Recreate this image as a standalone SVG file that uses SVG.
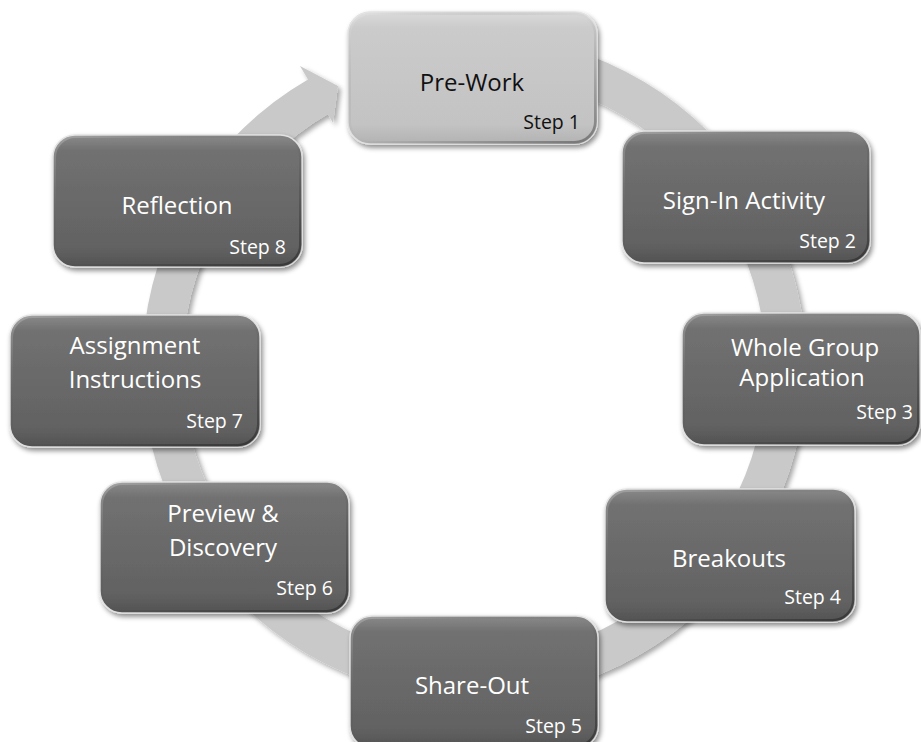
<svg xmlns="http://www.w3.org/2000/svg" width="921" height="742" viewBox="0 0 921 742">
  <defs>
    <style>
      .lbl { font-family: "Open Sans", "Liberation Sans", sans-serif; font-size: 24px; text-anchor: middle; }
      .step { font-family: "Open Sans", "Liberation Sans", sans-serif; font-size: 19.5px; text-anchor: end; }
      .dark .lbl, .dark .step { fill: #ffffff; }
      .light .lbl, .light .step { fill: #111111; }
      .box { stroke: #e2e2e2; stroke-width: 1.5; filter: url(#boxShadow); }
      .dark .box { fill: url(#darkFill); }
      .light .box { fill: url(#lightFill); }
      .bevel { fill: none; stroke: url(#bevelEdge); stroke-width: 3; }
    </style>
    <linearGradient id="darkFill" x1="0" y1="0" x2="0" y2="1">
      <stop offset="0" stop-color="#8a8a8a"/>
      <stop offset="0.12" stop-color="#717171"/>
      <stop offset="0.85" stop-color="#626262"/>
      <stop offset="1" stop-color="#535353"/>
    </linearGradient>
    <linearGradient id="lightFill" x1="0" y1="0" x2="0" y2="1">
      <stop offset="0" stop-color="#dadada"/>
      <stop offset="0.12" stop-color="#cbcbcb"/>
      <stop offset="0.85" stop-color="#c3c3c3"/>
      <stop offset="1" stop-color="#b2b2b2"/>
    </linearGradient>
    <linearGradient id="bevelEdge" x1="0" y1="0" x2="1" y2="1">
      <stop offset="0" stop-color="#ffffff" stop-opacity="0.25"/>
      <stop offset="0.5" stop-color="#000000" stop-opacity="0"/>
      <stop offset="1" stop-color="#000000" stop-opacity="0.35"/>
    </linearGradient>
    <filter id="boxShadow" x="-10%" y="-10%" width="125%" height="130%">
      <feGaussianBlur in="SourceAlpha" stdDeviation="2.5"/>
      <feOffset dx="2" dy="3" result="b"/>
      <feFlood flood-color="#000000" flood-opacity="0.45"/>
      <feComposite in2="b" operator="in"/>
      <feMerge><feMergeNode/><feMergeNode in="SourceGraphic"/></feMerge>
    </filter>
    <filter id="ringShadow" x="-10%" y="-10%" width="125%" height="125%">
      <feGaussianBlur in="SourceAlpha" stdDeviation="2.5"/>
      <feOffset dx="3" dy="3" result="b"/>
      <feFlood flood-color="#000000" flood-opacity="0.35"/>
      <feComposite in2="b" operator="in"/>
      <feMerge><feMergeNode/><feMergeNode in="SourceGraphic"/></feMerge>
    </filter>
  </defs>

  <rect width="921" height="742" fill="#ffffff"/>

  <!-- circular arrow: ring centred at (474,367), band 292..332, head points into Step 1 -->
  <g id="connectors">
    <path id="cycle-arrow" fill="#c9c9c9" filter="url(#ringShadow)"
      d="M 427.8 38.2
         A 332 332 0 1 1 308 79.5
         L 300 66
         L 338 86
         L 333 123
         L 328 114.1
         A 292 292 0 1 0 433.4 77.8 Z"/>
  </g>

  <g id="step1" class="light">
    <rect class="box" x="348" y="12" width="249" height="132" rx="22"/>
    <rect class="bevel" x="349.5" y="13.5" width="246" height="129" rx="21"/>
    <text class="lbl" x="472" y="91">Pre-Work</text>
    <text class="step" x="580" y="129">Step 1</text>
  </g>

  <g id="step2" class="dark">
    <rect class="box" x="622" y="131" width="248" height="132" rx="22"/>
    <rect class="bevel" x="623.5" y="132.5" width="245" height="129" rx="21"/>
    <text class="lbl" x="744" y="209">Sign-In Activity</text>
    <text class="step" x="856" y="248">Step 2</text>
  </g>

  <g id="step3" class="dark">
    <rect class="box" x="682" y="313" width="238" height="132" rx="22"/>
    <rect class="bevel" x="683.5" y="314.5" width="235" height="129" rx="21"/>
    <text class="lbl" x="805" y="356">Whole Group</text>
    <text class="lbl" x="802" y="386">Application</text>
    <text class="step" x="913" y="419">Step 3</text>
  </g>

  <g id="step4" class="dark">
    <rect class="box" x="605" y="489" width="250" height="133" rx="22"/>
    <rect class="bevel" x="606.5" y="490.5" width="247" height="130" rx="21"/>
    <text class="lbl" x="729" y="567">Breakouts</text>
    <text class="step" x="841" y="604">Step 4</text>
  </g>

  <g id="step5" class="dark">
    <rect class="box" x="350" y="616" width="248" height="132" rx="22"/>
    <rect class="bevel" x="351.5" y="617.5" width="245" height="129" rx="21"/>
    <text class="lbl" x="472" y="694">Share-Out</text>
    <text class="step" x="582" y="733">Step 5</text>
  </g>

  <g id="step6" class="dark">
    <rect class="box" x="100" y="482" width="249" height="131" rx="22"/>
    <rect class="bevel" x="101.5" y="483.5" width="246" height="128" rx="21"/>
    <text class="lbl" x="223" y="522">Preview &amp;</text>
    <text class="lbl" x="223" y="556">Discovery</text>
    <text class="step" x="333" y="595">Step 6</text>
  </g>

  <g id="step7" class="dark">
    <rect class="box" x="10" y="315" width="250" height="132" rx="22"/>
    <rect class="bevel" x="11.5" y="316.5" width="247" height="129" rx="21"/>
    <text class="lbl" x="135" y="354">Assignment</text>
    <text class="lbl" x="135" y="388">Instructions</text>
    <text class="step" x="243" y="428">Step 7</text>
  </g>

  <g id="step8" class="dark">
    <rect class="box" x="53" y="135" width="249" height="132" rx="22"/>
    <rect class="bevel" x="54.5" y="136.5" width="246" height="129" rx="21"/>
    <text class="lbl" x="177" y="214">Reflection</text>
    <text class="step" x="286" y="254">Step 8</text>
  </g>
</svg>
